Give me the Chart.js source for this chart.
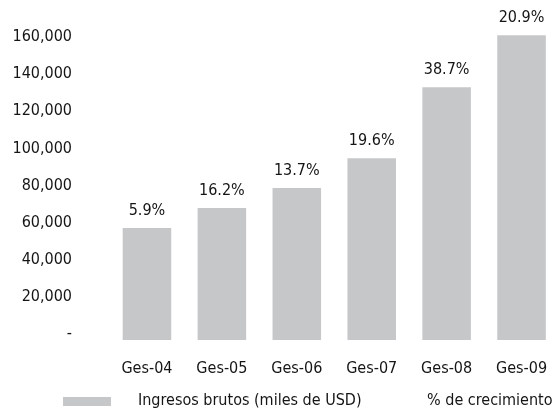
<!DOCTYPE html>
<html>
<head>
<meta charset="utf-8">
<script src="https://cdn.jsdelivr.net/npm/chart.js@4.4.1/dist/chart.umd.min.js"></script>
<style>
  html, body { margin: 0; padding: 0; background: #fff; overflow: hidden; }
  #wrap { width: 560px; height: 414px; }
</style>
</head>
<body>
<div id="wrap"><canvas id="IngresosChart"></canvas></div>
<script>
const categorias = ['Ges-04', 'Ges-05', 'Ges-06', 'Ges-07', 'Ges-08', 'Ges-09'];
const ingresos = [60300, 71100, 81900, 98000, 136200, 164200];
const crecimiento = ['5.9%', '16.2%', '13.7%', '19.6%', '38.7%', '20.9%'];
const yTicks = [0, 20000, 40000, 60000, 80000, 100000, 120000, 140000, 160000];

const FONT = "'DejaVu Sans Condensed', 'Liberation Sans Narrow', sans-serif";
const SIZE = 16;
const GREY = 'rgb(198, 199, 201)';
const INK = '#151515';

// % labels above each bar, taken from the bar elements
const growthLabels = {
  id: 'growthLabels',
  afterDatasetsDraw(chart) {
    const ctx = chart.ctx;
    const meta = chart.getDatasetMeta(0);
    ctx.save();
    ctx.font = SIZE + 'px ' + FONT;
    ctx.fillStyle = INK;
    ctx.textAlign = 'center';
    ctx.textBaseline = 'alphabetic';
    meta.data.forEach((bar, i) => {
      ctx.fillText(crecimiento[i], bar.x, bar.y - 13);
    });
    ctx.restore();
  }
};

const bottomLegend = {
  id: 'bottomLegend',
  afterDraw(chart) {
    const ctx = chart.ctx;
    ctx.save();
    ctx.fillStyle = GREY;
    ctx.fillRect(63, 397, 48, 9);
    ctx.font = SIZE + 'px ' + FONT;
    ctx.fillStyle = INK;
    ctx.textBaseline = 'middle';
    ctx.textAlign = 'left';
    ctx.fillText(chart.data.datasets[0].label, 138, 401);
    ctx.fillText('% de crecimiento', 427, 401);
    ctx.restore();
  }
};

const data = {
  labels: categorias,
  datasets: [{
    label: 'Ingresos brutos (miles de USD)',
    data: ingresos,
    backgroundColor: GREY,
    borderWidth: 0,
    barPercentage: 0.8,
    categoryPercentage: 0.81
  }]
};

const config = {
  type: 'bar',
  data: data,
  options: {
    responsive: true,
    maintainAspectRatio: false,
    animation: false,
    layout: { padding: { top: 6, left: 0, right: 1, bottom: 30 } },
    plugins: {
      legend: { display: false },
      tooltip: { enabled: false }
    },
    scales: {
      x: {
        grid: { display: false, drawTicks: false },
        border: { display: false },
        ticks: { color: INK, font: { family: FONT, size: SIZE }, padding: 19, maxRotation: 0 },
        afterFit: (s) => { s.height = 44; s.paddingLeft = 0; s.paddingRight = 0; }
      },
      y: {
        min: 0,
        max: 180000,
        grid: { display: false, drawTicks: false },
        border: { display: false },
        afterBuildTicks: (s) => { s.ticks = yTicks.map(v => ({ value: v })); },
        afterFit: (s) => { s.width = 109.5; s.paddingTop = 0; s.paddingBottom = 0; },
        ticks: {
          color: INK,
          font: { family: FONT, size: SIZE },
          padding: 37.5,
          labelOffset: -6,
          callback: (v) => v === 0 ? '-' : v.toLocaleString('en-US')
        }
      }
    }
  },
  plugins: [growthLabels, bottomLegend]
};

new Chart(document.getElementById('IngresosChart'), config);
</script>
</body>
</html>
